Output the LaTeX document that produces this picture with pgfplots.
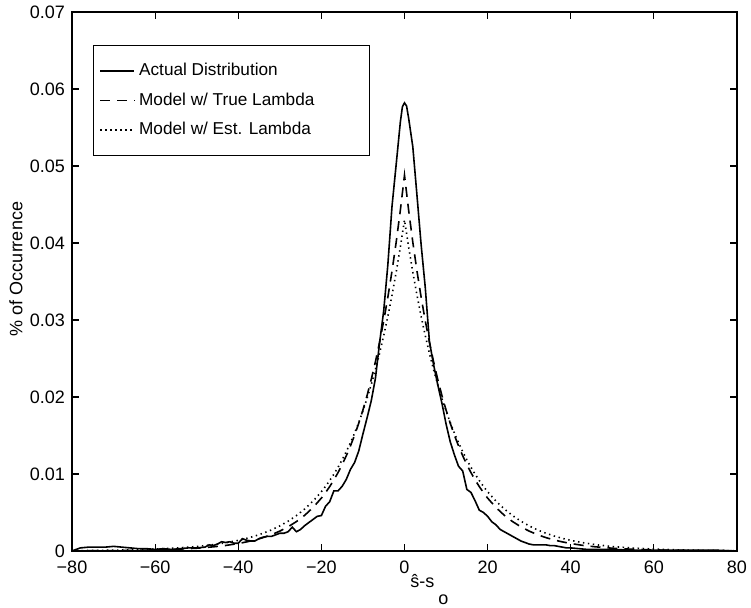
\documentclass[border=0pt]{standalone}
\usepackage{fontspec}
\setmainfont{Liberation Sans}
\usepackage{pgfplots}
\pgfplotsset{compat=1.18}

\pgfplotstableread{
x y
-80 0.0000
-79 0.0002
-78 0.0004
-76 0.0005
-74 0.0005
-72 0.0005
-70 0.0006
-68 0.0005
-66 0.0004
-64 0.0003
-62 0.0003
-60 0.0002
-58 0.0003
-56 0.0002
-54 0.0003
-52 0.0004
-50 0.0004
-48 0.0005
-47 0.0008
-46 0.0007
-45 0.0009
-44 0.0012
-43 0.0011
-42 0.0012
-41 0.0010
-40 0.0010
-39 0.0016
-38 0.0014
-37 0.0013
-36 0.0013
-35 0.0016
-34 0.0018
-33 0.0019
-32 0.0019
-31 0.0021
-30 0.0023
-29 0.0023
-28 0.0025
-27 0.0031
-26 0.0025
-25 0.0028
-24 0.0033
-23 0.0037
-22 0.0041
-21 0.0045
-20 0.0046
-19 0.0058
-18 0.0064
-17 0.0078
-16 0.0078
-15 0.0084
-14 0.0093
-13 0.0106
-12 0.0115
-11 0.0130
-10 0.0152
-9 0.0173
-8 0.0195
-7 0.0224
-6 0.0270
-5 0.0312
-4 0.0372
-3 0.0448
-2 0.0502
-1 0.0557
-0.5 0.0577
0 0.0582
0.5 0.0578
1 0.0562
2 0.0525
3 0.0462
4 0.0398
5 0.0342
6 0.0272
7 0.0242
8 0.0216
9 0.0192
10 0.0165
11 0.0142
12 0.0125
13 0.0110
14 0.0104
15 0.0080
16 0.0076
17 0.0065
18 0.0053
19 0.0050
20 0.0045
21 0.0038
22 0.0034
23 0.0028
24 0.0025
25 0.0022
26 0.0019
27 0.0016
28 0.0013
29 0.0011
30 0.0009
31 0.0008
32 0.0008
34 0.0008
35 0.0007
36 0.0007
37 0.0006
38 0.0005
39 0.0004
40 0.0004
42 0.0003
44 0.0002
46 0.0002
50 0.0002
55 0.0001
60 0.0001
65 0.0001
70 0.0001
75 0.0001
80 0.0000
}\actual

% model, true lambda
\pgfplotstableread{
x y
-80 0.00002
-75 0.00003
-70 0.00005
-65 0.00008
-60 0.00014
-55 0.00022
-50 0.00036
-46 0.00054
-43 0.00072
-40 0.00097
-38 0.00118
-36 0.00143
-34 0.00174
-32 0.00212
-30 0.00258
-28 0.00314
-26 0.00382
-24 0.00464
-22 0.00565
-20 0.00687
-19 0.00758
-18 0.00836
-17 0.00922
-16 0.01017
-15 0.01122
-14 0.01237
-13 0.01365
-12 0.01505
-11 0.01660
-10 0.01831
-9 0.02020
-8 0.02228
-7 0.02457
-6 0.02710
-5 0.02989
-4 0.03297
-3 0.03637
-2 0.04011
-1 0.04424
0 0.04880
1 0.04424
2 0.04011
3 0.03637
4 0.03297
5 0.02989
6 0.02710
7 0.02457
8 0.02228
9 0.02020
10 0.01831
11 0.01660
12 0.01505
13 0.01365
14 0.01237
15 0.01122
16 0.01017
17 0.00922
18 0.00836
19 0.00758
20 0.00687
22 0.00565
24 0.00464
26 0.00382
28 0.00314
30 0.00258
32 0.00212
34 0.00174
36 0.00143
38 0.00118
40 0.00097
43 0.00072
46 0.00054
50 0.00036
55 0.00022
60 0.00014
65 0.00008
70 0.00005
75 0.00003
80 0.00002
}\truelam

% model, estimated lambda
\pgfplotstableread{
x y
-80 0.00004
-75 0.00007
-70 0.00010
-65 0.00016
-60 0.00025
-55 0.00038
-50 0.00058
-46 0.00082
-43 0.00107
-40 0.00138
-38 0.00164
-36 0.00194
-34 0.00231
-32 0.00274
-30 0.00326
-28 0.00387
-26 0.00460
-24 0.00546
-22 0.00648
-20 0.00770
-19 0.00839
-18 0.00915
-17 0.00997
-16 0.01086
-15 0.01184
-14 0.01290
-13 0.01406
-12 0.01532
-11 0.01670
-10 0.01820
-9 0.01983
-8 0.02161
-7 0.02355
-6 0.02567
-5 0.02797
-4 0.03048
-3 0.03322
-2 0.03621
-1 0.03946
0 0.04300
1 0.03946
2 0.03621
3 0.03322
4 0.03048
5 0.02797
6 0.02567
7 0.02355
8 0.02161
9 0.01983
10 0.01820
11 0.01670
12 0.01532
13 0.01406
14 0.01290
15 0.01184
16 0.01086
17 0.00997
18 0.00915
19 0.00839
20 0.00770
22 0.00648
24 0.00546
26 0.00460
28 0.00387
30 0.00326
32 0.00274
34 0.00231
36 0.00194
38 0.00164
40 0.00138
43 0.00107
46 0.00082
50 0.00058
55 0.00038
60 0.00025
65 0.00016
70 0.00010
75 0.00007
80 0.00004
}\estlam

\begin{document}
\begin{tikzpicture}
\path[use as bounding box] (-36pt,-28.5pt) rectangle (339.5pt,275.5pt);
\begin{axis}[
  scale only axis,
  width=332.5pt, height=269.5pt,
  xmin=-80, xmax=80, ymin=0, ymax=0.07,
  xtick={-80,-60,-40,-20,0,20,40,60,80},
  xticklabels={−80,−60,−40,−20,0,20,40,60,80},
  ytick={0,0.01,0.02,0.03,0.04,0.05,0.06,0.07},
  yticklabels={0,0.01,0.02,0.03,0.04,0.05,0.06,0.07},
  tick align=inside,
  major tick length=3.5pt,
  tick style={black, line width=0.6pt},
  axis line style={line width=0.8pt},
  ticklabel style={font=\fontsize{9}{10}\selectfont},
  xticklabel style={yshift=-1.5pt},
  legend style={at={(0.0316,0.939)}, anchor=north west, draw=black,
    font=\fontsize{8.6}{9.6}\selectfont, row sep=3pt,
    inner xsep=3pt, inner ysep=7pt},
  legend cell align=left,
]
\addplot[black, line width=0.8pt] table {\actual};
\addlegendentry{\makebox[110pt][l]{Actual Distribution}}
\addplot[black, line width=0.8pt, dash pattern=on 5pt off 3.5pt] table {\truelam};
\addlegendentry{\makebox[110pt][l]{Model w/ True Lambda}}
\addplot[black, line width=0.8pt, dash pattern=on 0.7pt off 1.8pt] table {\estlam};
\addlegendentry{\makebox[110pt][l]{Model w/ Est. Lambda}}
\end{axis}
\node[rotate=90, font=\fontsize{9}{10}\selectfont] at (-28pt,141pt) {\% of Occurrence};
\node[anchor=base west, inner sep=0, font=\fontsize{9}{10}\selectfont] at (169pt,-18.5pt) {ŝ-s};
\node[anchor=base west, inner sep=0, font=\fontsize{9}{10}\selectfont] at (183pt,-27pt) {o};
\end{tikzpicture}
\end{document}
